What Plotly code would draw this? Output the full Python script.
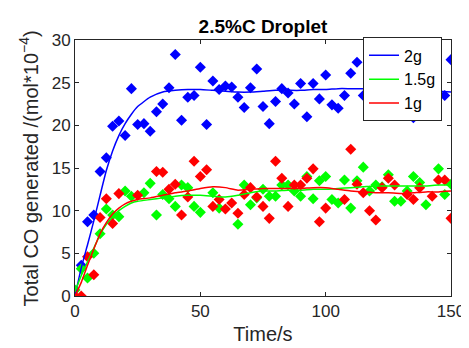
import plotly.graph_objects as go

# ---- data ----
t_2g = [2.5, 5, 7.5, 10, 12.5, 15, 17.5, 20, 22.5, 25, 27.5, 30, 32.5, 35, 37.5, 40,
        42.5, 45, 47.5, 50, 52.5, 55, 57.5, 60, 62.5, 65, 67.5, 70, 72.5, 75, 77.5,
        80, 82.5, 85, 87.5, 90, 92.5, 95, 97.5, 100, 102.5, 105, 107.5, 110, 112.5,
        115, 135, 147.5, 150]
v_2g = [3.6, 8.7, 9.5, 14.6, 16.2, 19.9, 20.5, 18.8, 24.3, 20.1, 20.2, 19.3, 21.6, 22.5,
        24.4, 28.3, 20.6, 23.3, 23.5, 26.8, 20.1, 25.2, 24.2, 24.6, 24.5, 23.3, 22.1,
        24.4, 26.6, 22.2, 20.2, 22.8, 24.3, 23.8, 22.5, 24.9, 21.0, 24.9, 23.1, 25.9,
        22.4, 22.0, 23.5, 26.1, 27.4, 23.5, 20.9, 23.5, 27.7]

t_15g = [0, 2.5, 5, 7.5, 10, 12.5, 15, 17.5, 20, 22.5, 27.5, 30, 32.5, 35, 37.5, 40,
         42.5, 45, 47.5, 50, 55, 57.5, 65, 67.5, 70, 72.5, 75, 77.5, 80, 82.5, 85, 87.5,
         90, 92.5, 95, 97.5, 100, 102.5, 105, 107.5, 110, 112.5, 115, 117.5, 120, 122.5,
         125, 127.5, 130, 132.5, 135, 137.5, 140, 145, 147.5, 150]
v_15g = [0.7, 3.2, 2.1, 5.0, 7.3, 10.2, 9.5, 9.3, 12.3, 11.7, 12.1, 13.2, 9.5, 11.9, 11.4,
         10.5, 13.0, 12.7, 10.5, 9.8, 12.1, 10.3, 8.4, 13.0, 10.7, 11.5, 12.5, 11.7, 11.7,
         13.0, 13.0, 12.3, 11.7, 14.0, 11.4, 13.5, 14.0, 11.3, 10.9, 13.6, 10.3, 13.5,
         15.1, 12.3, 13.0, 12.8, 14.2, 11.1, 11.1, 12.3, 14.0, 13.3, 10.7, 14.9, 11.9, 13.1]

t_1g = [0, 2.5, 5, 7.5, 10, 12.5, 15, 17.5, 25, 32.5, 35, 37.5, 40, 42.5, 45, 47.5, 50,
        52.5, 55, 57.5, 60, 62.5, 65, 67.5, 70, 72.5, 75, 77.5, 80, 82.5, 85, 87.5, 90,
        92.5, 95, 97.5, 100, 107.5, 110, 112.5, 115, 117.5, 120, 122.5, 125, 127.5,
        132.5, 135, 137.5, 142.5, 145, 147.5, 150]
v_1g = [0.0, 0.0, 4.6, 2.5, 9.2, 11.4, 8.5, 12.0, 11.8, 14.6, 14.5, 12.5, 13.1, 9.5, 11.6,
        15.8, 14.0, 14.8, 10.5, 11.3, 10.2, 10.9, 9.7, 11.9, 12.7, 11.6, 10.5, 9.1, 15.8,
        13.8, 10.5, 13.0, 13.0, 13.8, 14.9, 8.7, 10.3, 11.3, 17.2, 13.1, 12.1, 10.0, 8.9,
        12.7, 13.8, 13.0, 11.9, 11.3, 12.7, 11.7, 13.6, 13.6, 9.1]

# smoothed fit curves
t_fit = [0, 2.5, 5, 7.5, 10, 12.5, 15, 17.5, 20, 22.5, 25, 30, 35, 40, 45, 50, 55, 60,
         65, 70, 75, 80, 85, 90, 95, 100, 105, 110, 115, 120, 125, 130, 135, 140, 145, 150]
fit_2g = [0.0, 3.3, 6.0, 8.8, 11.8, 14.7, 17.0, 18.8, 20.2, 21.3, 22.2, 23.3, 23.9, 24.1,
          24.2, 24.2, 24.1, 24.0, 23.9, 23.9, 24.0, 24.1, 24.1, 24.1, 24.2, 24.2, 24.3,
          24.3, 24.3, 24.3, 24.3, 24.2, 24.2, 24.1, 24.0, 23.9]
fit_15g = [0.5, 2.4, 4.0, 5.6, 7.2, 8.4, 9.3, 10.0, 10.5, 10.9, 11.1, 11.3, 11.5, 11.7,
           11.8, 11.8, 11.7, 11.6, 11.8, 12.1, 12.3, 12.3, 12.4, 12.4, 12.5, 12.5, 12.6,
           12.7, 12.8, 12.9, 12.9, 12.9, 12.9, 12.9, 13.0, 13.0]
fit_1g = [0.0, 1.6, 3.6, 5.5, 7.3, 8.6, 9.6, 10.3, 10.8, 11.1, 11.3, 11.5, 11.8, 12.1,
          12.3, 12.6, 12.8, 12.7, 12.4, 12.5, 12.6, 12.6, 12.6, 12.6, 12.7, 12.7, 12.5,
          12.3, 12.2, 12.1, 12.1, 12.0, 12.1, 12.2, 12.2, 12.3]

x_ticks = [0, 50, 100, 150]
y_ticks = [0, 5, 10, 15, 20, 25, 30]

BLUE, GREEN, RED = "#0000ff", "#00ff00", "#ff0000"
AX = "#262626"
FONT = "Arial, Liberation Sans, sans-serif"

fig = go.Figure()
for t, v, c in [(t_2g, v_2g, BLUE), (t_15g, v_15g, GREEN), (t_1g, v_1g, RED)]:
    fig.add_trace(go.Scatter(x=t, y=v, mode="markers", showlegend=False,
                             marker=dict(symbol="diamond", size=8.5, color=c,
                                         line=dict(width=0))))
for v, c, name in [(fit_2g, BLUE, "2g"), (fit_15g, GREEN, "1.5g"), (fit_1g, RED, "1g")]:
    fig.add_trace(go.Scatter(x=t_fit, y=v, mode="lines", name=name,
                             line=dict(color=c, width=1.5, shape="spline", smoothing=0.5)))

axis_common = dict(showline=True, mirror="ticks", linecolor=AX, linewidth=1,
                   ticks="inside", ticklen=4, tickcolor=AX, tickwidth=1,
                   showgrid=False, zeroline=False,
                   tickfont=dict(family=FONT, size=17, color=AX))

fig.update_layout(
    width=469, height=348,
    margin=dict(l=67, r=17, t=32, b=60),
    paper_bgcolor="white", plot_bgcolor="white",
    font=dict(family=FONT, color=AX),
    title=dict(text="<b>2.5%C Droplet</b>", x=0.5, xref="paper", xanchor="center",
               y=1 - 18 / 348, yref="container", yanchor="middle",
               font=dict(family=FONT, size=19, color="black")),
    xaxis=dict(range=[0, 150], tickvals=x_ticks,
               title=dict(text="Time/s", font=dict(family=FONT, size=20, color=AX),
                          standoff=6),
               **axis_common),
    yaxis=dict(range=[0, 30], tickvals=y_ticks, **axis_common),
    legend=dict(x=0.766, y=1.01, xanchor="left", yanchor="top",
                bgcolor="white", bordercolor=AX, borderwidth=1,
                font=dict(family=FONT, size=16, color="black"),
                tracegroupgap=0),
    showlegend=True,
    annotations=[dict(text="Total CO generated /(mol*10<sup>−4</sup>)",
                      xref="paper", yref="paper", x=-0.124, y=0.5,
                      xanchor="center", yanchor="middle", textangle=-90,
                      showarrow=False, font=dict(family=FONT, size=20, color=AX))],
)

fig.write_html("out.html")
